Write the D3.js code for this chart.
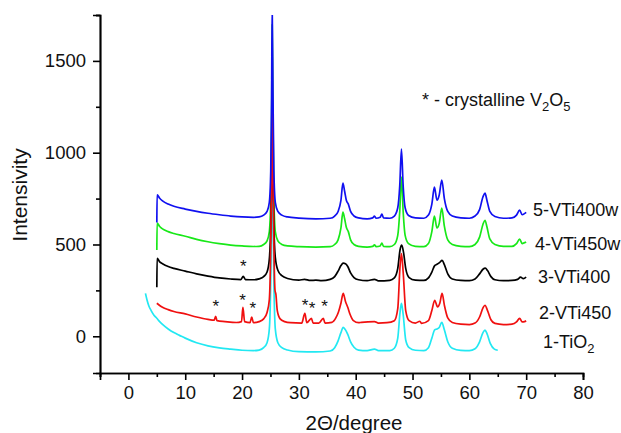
<!DOCTYPE html>
<html><head><meta charset="utf-8">
<script src="https://cdn.jsdelivr.net/npm/d3@7"></script>
<style>
html,body{margin:0;padding:0;background:#fff;}
svg{display:block;font-family:"Liberation Sans",Arial,sans-serif;}
</style></head>
<body>
<svg id="chart" width="621" height="433"></svg>
<script>
// ---- data: [2θ (degree), intensity] ----
const tio2 = [[3,234],[3.3,195],[3.6,165],[4,140],[4.5,115],[5,98],[5.5,80],[6,65],[7,40],[8,20],[9,5],[10,-10],[12,-35],[14,-52],[16,-63],[18,-70],[20,-76],[22,-78],[23,-75],[23.8,-62],[24.4,-35],[24.8,40],[25.05,300],[25.2,650],[25.3,900],[25.45,650],[25.6,300],[25.85,40],[26.3,-35],[27,-62],[28,-75],[30,-84],[33,-85],[35.5,-80],[36.3,-62],[36.9,-25],[37.4,20],[37.8,49],[38.2,35],[38.6,10],[39.1,-30],[39.7,-60],[40.5,-75],[42,-78],[43.3,-70],[44,-78],[46,-78],[46.8,-65],[47.4,-10],[47.8,130],[48.05,180],[48.35,120],[48.8,-20],[49.4,-62],[50.5,-76],[52,-78],[52.8,-62],[53.4,-10],[53.9,35],[54.3,40],[54.7,48],[55.15,76],[55.6,35],[56.2,-30],[57,-65],[58.5,-77],[60,-78],[61,-68],[61.8,-30],[62.4,20],[62.75,33],[63.1,15],[63.7,-40],[64.4,-70],[65,-76]];
const vti450 = [[5,180],[5.5,168],[6,158],[7,145],[8,135],[10,122],[12,105],[14,92],[15.1,88],[15.35,109],[15.6,85],[17,80],[19,75],[19.9,80],[20.15,158],[20.45,80],[21.4,74],[21.7,104],[22,74],[23,80],[23.8,95],[24.4,130],[24.8,200],[25.05,500],[25.2,900],[25.3,1300],[25.45,900],[25.6,500],[25.8,250],[25.95,229],[26.2,140],[26.7,95],[27.5,80],[28.5,74],[30.5,72],[31.05,125],[31.4,74],[32.2,98],[32.5,72],[33.5,72],[34.3,98],[34.6,72],[35.8,76],[36.5,100],[36.95,131],[37.4,180],[37.8,234],[38.2,190],[38.6,158],[39,120],[39.6,85],[40.5,74],[41,76],[43.3,80],[44,72],[45.5,74],[46.8,85],[47.4,150],[47.8,380],[48.05,450],[48.35,350],[48.8,140],[49.4,85],[50.5,72],[51.3,82],[51.6,70],[52.8,85],[53.4,140],[53.9,196],[54.4,160],[54.8,180],[55.2,234],[55.6,170],[56.2,100],[57,75],[58.5,66],[60,64],[61,72],[61.8,105],[62.4,155],[62.75,169],[63.2,140],[63.8,90],[64.5,70],[66,64],[67.5,66],[68.3,78],[68.85,98],[69.3,78],[69.7,80],[70,84]];
const vti400 = [[5,267],[5.05,425],[5.5,405],[6,395],[7,380],[8,370],[10,355],[12,340],[14,328],[16,318],[18,312],[19.8,309],[20.2,327],[20.6,309],[22,308],[23,313],[23.8,325],[24.4,350],[24.8,420],[25.05,600],[25.2,850],[25.3,1050],[25.45,850],[25.6,600],[25.85,430],[26.3,360],[27,330],[28,315],[30,306],[31,310],[32,304],[33,306],[34,303],[35.5,310],[36.3,325],[36.9,355],[37.4,385],[37.8,398],[38.2,395],[38.6,380],[39.1,345],[39.7,320],[40.5,308],[42,303],[43.3,310],[44,302],[46,305],[46.8,318],[47.4,370],[47.8,470],[48.1,496],[48.4,460],[48.8,370],[49.4,320],[50.5,306],[52,304],[52.8,318],[53.4,350],[53.9,385],[54.3,392],[54.8,403],[55.2,414],[55.6,390],[56.2,340],[57,312],[58.5,304],[60,303],[61,312],[61.8,340],[62.4,365],[62.8,371],[63.2,358],[63.8,325],[64.5,308],[66,303],[67.5,304],[68.5,310],[69,322],[69.5,314],[70,322]];
const vti450w = [[5,470],[5.05,616],[5.5,598],[6,585],[7,570],[8,560],[10,545],[12,528],[14,515],[16,505],[18,497],[20,492],[22,489],[23,490],[23.8,500],[24.4,520],[24.8,570],[25.05,750],[25.2,1150],[25.3,1700],[25.45,1150],[25.6,750],[25.85,570],[26.3,520],[27,500],[28,492],[30,488],[33,486],[35.5,488],[36.3,500],[36.9,525],[37.4,590],[37.75,676],[38.05,640],[38.35,594],[38.7,570],[39.1,525],[39.7,500],[40.5,490],[42,486],[43,490],[43.3,498],[43.6,488],[44.3,492],[44.6,508],[44.9,490],[46,488],[46.8,500],[47.4,550],[47.75,680],[48.05,867],[48.35,680],[48.7,550],[49.3,505],[50.5,490],[52,488],[52.8,505],[53.4,570],[53.85,654],[54.3,590],[54.7,615],[55.15,698],[55.6,600],[56.2,525],[57,500],[58.5,490],[60,488],[61,500],[61.8,540],[62.4,610],[62.75,632],[63.1,595],[63.6,530],[64.5,500],[66,490],[67.5,490],[68.3,505],[68.85,529],[69.3,505],[69.7,510],[70,514]];
const vti400w = [[5,620],[5.05,770],[5.5,752],[6,738],[7,720],[8,708],[10,693],[12,680],[14,670],[16,662],[18,655],[20,650],[22,648],[23,650],[23.8,660],[24.4,680],[24.8,730],[25.05,900],[25.2,1300],[25.3,1800],[25.45,1300],[25.6,900],[25.85,730],[26.3,680],[27,660],[28,650],[30,644],[33,640],[35.5,643],[36.3,655],[36.9,680],[37.4,740],[37.75,834],[38.05,790],[38.35,741],[38.7,720],[39.1,680],[39.7,655],[40.5,645],[42,640],[43,645],[43.3,655],[43.6,643],[44.3,648],[44.6,665],[44.9,645],[46,643],[46.8,655],[47.4,700],[47.75,820],[48.05,1020],[48.35,820],[48.7,700],[49.3,658],[50.5,645],[52,643],[52.8,660],[53.4,720],[53.85,812],[54.3,741],[54.7,770],[55.15,851],[55.6,750],[56.2,680],[57,655],[58.5,645],[60,643],[61,655],[61.8,690],[62.4,760],[62.75,780],[63.1,740],[63.6,680],[64.5,652],[66,643],[67.5,645],[68.3,660],[68.85,687],[69.3,662],[69.7,668],[70,675]];

const seriesNames = ["1-TiO2","2-VTi450","3-VTi400","4-VTi450w","5-VTi400w"];
const seriesData = [tio2, vti450, vti400, vti450w, vti400w];
const seriesColors = ["#22e8f2","#f01010","#000000","#18e818","#1010f0"];
const drawOrder = [0,3,2,1,4];
const labelPos = [[543,-30],[539,125],[538,322],[535,500],[533,690]]; // [px x, data y]

// V2O5 star markers [2θ, intensity]
const starsBlack = [[20.2,382]];
const starsRed = [[15.4,164],[20.1,196],[21.9,153],[31.1,169],[32.3,153],[34.5,164]];

const xMajor = [0,10,20,30,40,50,60,70,80];
const xMinor = [-5,5,15,25,35,45,55,65,75];
const yMajor = [0,500,1000,1500];
const yMinor = [250,750,1250,1750];

// ---- layout ----
const svg = d3.select("#chart");
const x = d3.scaleLinear().domain([-5,80]).range([100,583]);
const y = d3.scaleLinear().domain([-200,1750]).range([373,15]);
const font = '"Liberation Sans",Arial,sans-serif';

svg.append("defs").append("clipPath").attr("id","clip")
  .append("rect").attr("x",100).attr("y",15).attr("width",483).attr("height",358);

const line = d3.line().x(d=>x(d[0])).y(d=>y(d[1])).curve(d3.curveMonotoneX);
const g = svg.append("g").attr("clip-path","url(#clip)");
drawOrder.forEach(i=>{
  g.append("path").datum(seriesData[i])
    .attr("fill","none").attr("stroke",seriesColors[i])
    .attr("stroke-width",1.7).attr("stroke-linejoin","round")
    .attr("d",line);
});

// axes
const xAxis = svg.append("g").attr("transform","translate(0,373)");
xAxis.call(d3.axisBottom(x).tickValues(xMajor).tickSize(7).tickPadding(6).tickFormat(d3.format("d")));
const xMin = svg.append("g").attr("transform","translate(0,373)");
xMin.call(d3.axisBottom(x).tickValues(xMinor).tickSize(4).tickFormat(""));
const yAxis = svg.append("g").attr("transform","translate(100,0)");
yAxis.call(d3.axisLeft(y).tickValues(yMajor).tickSize(7).tickPadding(7).tickFormat(d3.format("d")));
const yMin = svg.append("g").attr("transform","translate(100,0)");
yMin.call(d3.axisLeft(y).tickValues(yMinor).tickSize(4).tickFormat(""));
[xAxis,xMin,yAxis,yMin].forEach(a=>{
  a.selectAll("path.domain").attr("stroke","#000").attr("stroke-width",1.7);
  a.selectAll(".tick line").attr("stroke","#000").attr("stroke-width",1.6);
  a.selectAll("text").attr("font-size",18.5).attr("font-family",font).attr("fill","#111");
});

// stars
svg.append("g").selectAll("text").data(starsBlack.concat(starsRed)).join("text")
  .attr("x",d=>x(d[0])).attr("y",d=>y(d[1])+6)
  .attr("text-anchor","middle").attr("font-size",17).attr("font-family",font)
  .attr("fill","#111").text("*");

// series labels
const lab = svg.append("g").attr("font-family",font).attr("font-size",18).attr("fill","#111");
labelPos.forEach((p,i)=>{
  const t = lab.append("text").attr("x",p[0]).attr("y",y(p[1])+6);
  if(i===0){
    t.append("tspan").text("1-TiO");
    t.append("tspan").attr("font-size",13).attr("dy",5).text("2");
  } else t.text(seriesNames[i]);
});

// annotation
const ann = svg.append("text").attr("x",422).attr("y",106)
  .attr("font-family",font).attr("font-size",18).attr("fill","#111");
ann.append("tspan").text("* - crystalline V");
ann.append("tspan").attr("font-size",13).attr("dy",5).text("2");
ann.append("tspan").attr("dy",-5).text("O");
ann.append("tspan").attr("font-size",13).attr("dy",5).text("5");

// axis titles
svg.append("text").attr("x",354).attr("y",430).attr("text-anchor","middle")
  .attr("font-family",font).attr("font-size",20.5).attr("fill","#111").text("2Θ/degree");
svg.append("text").attr("transform","translate(27,195) rotate(-90)").attr("text-anchor","middle")
  .attr("font-family",font).attr("font-size",21).attr("fill","#111").text("Intensivity");
</script>
</body></html>
